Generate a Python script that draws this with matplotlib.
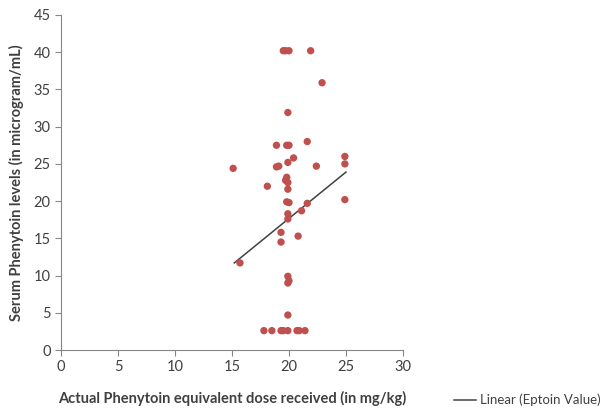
import matplotlib

matplotlib.use("Agg")
import matplotlib.pyplot as plt
import numpy as np

plt.rcParams["font.family"] = ["Lato", "DejaVu Sans"]

# dose received (mg/kg) vs serum phenytoin (microgram/mL)
dose = [19.5, 19.7, 20.0, 21.9, 22.9, 19.9, 18.9, 19.8, 20.0, 21.6,
        20.4, 19.9, 24.9, 24.9, 15.1, 18.9, 19.1, 22.4, 19.8, 19.7,
        19.9, 18.1, 19.9, 19.8, 20.0, 21.6, 24.9, 21.1, 19.9, 19.9,
        19.3, 20.8, 19.3, 15.7, 19.9, 20.0, 19.9, 19.9, 17.8, 18.5,
        19.3, 19.5, 19.9, 20.7, 20.9, 21.4]
serum = [40.2, 40.2, 40.2, 40.2, 35.9, 31.9, 27.5, 27.5, 27.5, 28.0,
         25.8, 25.2, 26.0, 25.0, 24.4, 24.6, 24.7, 24.7, 23.2, 22.8,
         22.5, 22.0, 21.6, 19.9, 19.8, 19.7, 20.2, 18.7, 18.3, 17.6,
         15.8, 15.3, 14.5, 11.7, 9.9, 9.3, 9.0, 4.7, 2.6, 2.6,
         2.6, 2.6, 2.6, 2.6, 2.6, 2.6]
trend_x = [15.2, 25.0]
trend_y = [11.7, 23.9]

x_ticks = list(range(0, 31, 5))
y_ticks = list(range(0, 46, 5))

fig = plt.figure(figsize=(6.12, 4.16), dpi=100)
ax = fig.add_axes([61 / 612, 66 / 416, 342 / 612, 335 / 416])

ax.scatter(dose, serum, s=28, color="#C0504D", edgecolors="none", zorder=3)
ax.plot(trend_x, trend_y, color="#404040", lw=1.1, label="Linear (Eptoin Value)", zorder=2)

ax.set_xlim(0, 30)
ax.set_ylim(0, 45)
ax.set_xticks(x_ticks)
ax.set_yticks(y_ticks)
for side in ["top", "right"]:
    ax.spines[side].set_visible(False)
for side in ["left", "bottom"]:
    ax.spines[side].set_color("#868686")
    ax.spines[side].set_linewidth(0.8)
ax.tick_params(colors="#868686", labelcolor="#404040", labelsize=10.5, length=4, width=0.8)

ax.set_xlabel("Actual Phenytoin equivalent dose received (in mg/kg)",
              fontsize=10.5, fontweight="bold", color="#404040", labelpad=12)
ax.set_ylabel("Serum Phenytoin levels (in microgram/mL)",
              fontsize=10.5, fontweight="bold", color="#404040", labelpad=7)

fig.legend(loc="lower right", bbox_to_anchor=(1.0, -0.005), frameon=False,
           fontsize=9.5, handlelength=1.6, handletextpad=0.3, labelcolor="#404040")

fig.savefig("out.png", dpi=100)
